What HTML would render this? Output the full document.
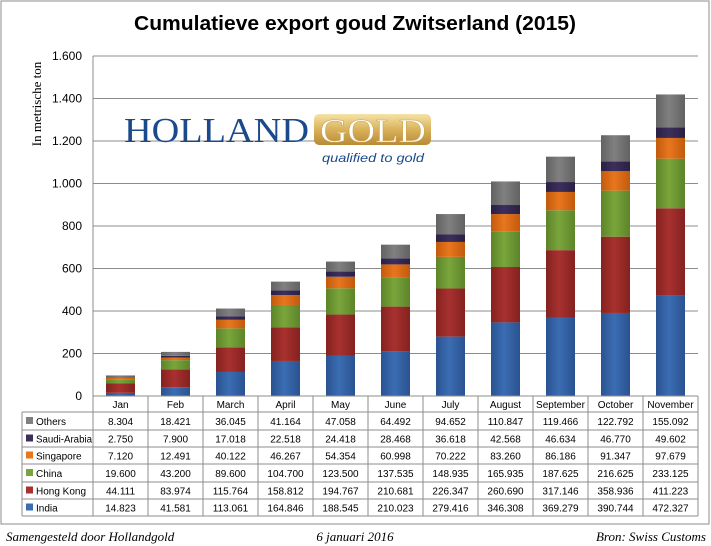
<!DOCTYPE html>
<html><head><meta charset="utf-8"><style>
body{margin:0;background:#fff;font-family:"Liberation Sans",sans-serif}
svg{display:block}
</style></head><body>
<svg id="c" width="711" height="546" xmlns="http://www.w3.org/2000/svg">
<defs>
<linearGradient id="gGold" x1="0" y1="0" x2="0" y2="1"><stop offset="0" stop-color="#f6e3a8"/><stop offset="0.5" stop-color="#d9b25a"/><stop offset="1" stop-color="#b88a35"/></linearGradient>
</defs>
<rect x="1" y="1" width="708" height="523" fill="#fff" stroke="#8c8c8c"/>
<text x="134" y="30" textLength="442" lengthAdjust="spacingAndGlyphs" font-size="20" font-weight="bold" fill="#000">Cumulatieve export goud Zwitserland (2015)</text>
<text transform="translate(41,104) rotate(-90)" text-anchor="middle" font-family="Liberation Serif" font-size="13" fill="#000">In metrische ton</text>
<g id="grid"></g>
<g id="bars"></g>
<g id="logo">
<text x="124" y="142" textLength="185" lengthAdjust="spacingAndGlyphs" font-family="Liberation Serif" font-size="35" fill="#1b4a8c">HOLLAND</text>
<rect x="314" y="114" width="117" height="31" rx="5" fill="url(#gGold)"/>
<text x="320" y="142" textLength="106" lengthAdjust="spacingAndGlyphs" font-family="Liberation Serif" font-size="34" fill="#fff" stroke="#c9a14e" stroke-width="0.5">GOLD</text>
<text x="322" y="162" textLength="102" lengthAdjust="spacingAndGlyphs" font-family="Liberation Sans" font-style="italic" font-size="12" fill="#1b4a8c">qualified to gold</text>
</g>
<g id="table"></g>
<text x="6" y="541" font-family="Liberation Serif" font-style="italic" font-size="13">Samengesteld door Hollandgold</text>
<text x="355" y="541" text-anchor="middle" font-family="Liberation Serif" font-style="italic" font-size="13">6 januari 2016</text>
<text x="706" y="541" text-anchor="end" font-family="Liberation Serif" font-style="italic" font-size="13">Bron: Swiss Customs</text>
</svg>
<script>
const categories=["Jan","Feb","March","April","May","June","July","August","September","October","November"];
const seriesNames=["India","Hong Kong","China","Singapore","Saudi-Arabia","Others"];
const india=[14.823,41.581,113.061,164.846,188.545,210.023,279.416,346.308,369.279,390.744,472.327];
const hongKong=[44.111,83.974,115.764,158.812,194.767,210.681,226.347,260.690,317.146,358.936,411.223];
const china=[19.600,43.200,89.600,104.700,123.500,137.535,148.935,165.935,187.625,216.625,233.125];
const singapore=[7.120,12.491,40.122,46.267,54.354,60.998,70.222,83.260,86.186,91.347,97.679];
const saudi=[2.750,7.900,17.018,22.518,24.418,28.468,36.618,42.568,46.634,46.770,49.602];
const others=[8.304,18.421,36.045,41.164,47.058,64.492,94.652,110.847,119.466,122.792,155.092];
const yTicks=[0,200,400,600,800,1000,1200,1400,1600];
const yTickLabels=["0","200","400","600","800","1.000","1.200","1.400","1.600"];
const series=[india,hongKong,china,singapore,saudi,others];
const colors=["#3b6db3","#a8312f","#7aa53b","#e8761e","#3d2f5c","#808080"];
const dark=["#2a5290","#84221f","#5d8429","#c25a0c","#2a1f44","#626262"];
const ns="http://www.w3.org/2000/svg";
const svg=document.getElementById('c');
const X0=93,X1=698,Y0=396,Y1=56,YMAX=1600;
const bw=(X1-X0)/categories.length;
const y=v=>Y0-(v/YMAX)*(Y0-Y1);
const xc=i=>X0+bw*(i+0.5);
function mk(t,a,p){const e=document.createElementNS(ns,t);for(const k in a)e.setAttribute(k,a[k]);p.appendChild(e);return e;}
const defs=svg.querySelector('defs');
colors.forEach((c,k)=>{const g=mk('linearGradient',{id:'s'+k,x1:0,y1:0,x2:1,y2:0},defs);mk('stop',{offset:0,'stop-color':dark[k]},g);mk('stop',{offset:0.45,'stop-color':c},g);mk('stop',{offset:1,'stop-color':dark[k]},g);});
const grid=document.getElementById('grid');
yTicks.forEach((t,i)=>{
 if(t>0){const l=mk('line',{x1:X0,x2:X1,y1:y(t),y2:y(t),stroke:'#8c8c8c','stroke-width':1},grid);
 
 }
 const tx=mk('text',{x:82,y:y(t)+4,'text-anchor':'end','font-size':12},grid);tx.textContent=yTickLabels[i];
 
 
});
mk('line',{x1:X0,x2:X0,y1:Y1,y2:Y0,stroke:'#8c8c8c'},grid);
const bars=document.getElementById('bars');
categories.forEach((c,i)=>{
 let cum=0;
 series.forEach((s,k)=>{
  const v=s[i];const r=mk('rect',{x:xc(i)-14.5,width:29,y:y(cum+v),height:y(cum)-y(cum+v),fill:'url(#s'+k+')'},bars);
  
  
  cum+=v;
 });
});
const tb=document.getElementById('table');
const TL=22,rowH=[16,18,17,17,18,17,17];
let rowY=[Y0];rowH.forEach(h=>rowY.push(rowY[rowY.length-1]+h));
const st={stroke:'#8c8c8c','stroke-width':1,fill:'none'};
rowY.forEach((yy,r)=>{mk('line',Object.assign({x1:r<=1?X0:TL,x2:X1,y1:yy,y2:yy},st),tb);});
mk('line',Object.assign({x1:TL,x2:X0,y1:rowY[1],y2:rowY[1]},st),tb);
mk('line',Object.assign({x1:TL,x2:TL,y1:rowY[1],y2:rowY[7]},st),tb);
for(let i=0;i<=categories.length;i++){const xx=X0+bw*i;mk('line',Object.assign({x1:xx,x2:xx,y1:Y0,y2:rowY[7]},st),tb);}
categories.forEach((c,i)=>{const t=mk('text',{x:xc(i),y:rowY[0]+12,'text-anchor':'middle','font-size':10},tb);t.textContent=c;
 
 });
const order=[5,4,3,2,1,0];
const fmt=v=>v.toFixed(3);
order.forEach((k,r)=>{
 const yy=rowY[r+1],cy=yy+(rowY[r+2]-yy)/2;
 mk('rect',{x:TL+4,y:cy-4,width:7,height:7,fill:colors[k]},tb);
 const lt=mk('text',{x:TL+14,y:cy+4,'font-size':10},tb);lt.textContent=seriesNames[k];
 if(seriesNames[k].length>10){lt.setAttribute('textLength','56');lt.setAttribute('lengthAdjust','spacingAndGlyphs');}
 
 
 series[k].forEach((v,i)=>{const t=mk('text',{x:xc(i),y:cy+4,'text-anchor':'middle','font-size':10},tb);t.textContent=fmt(v);
  
  });
});
</script>
</body></html>
